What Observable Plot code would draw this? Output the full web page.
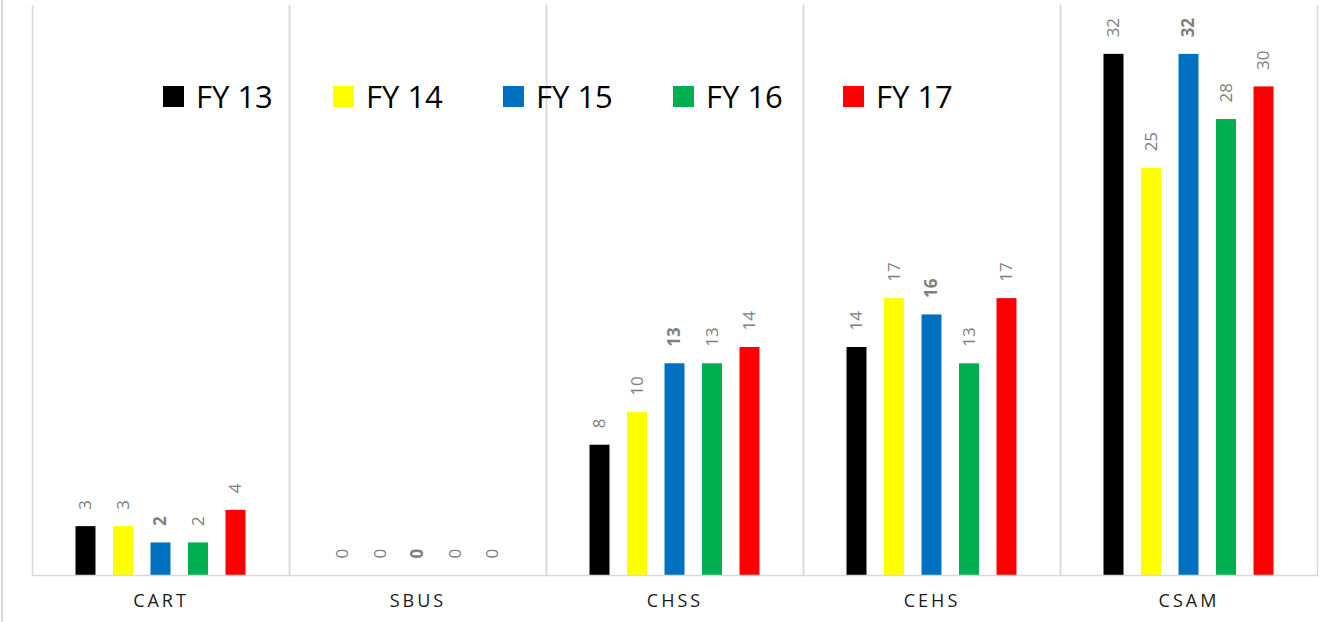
<!DOCTYPE html>
<html>
<head>
<meta charset="utf-8">
<script src="https://cdn.jsdelivr.net/npm/d3@7"></script>
<script src="https://cdn.jsdelivr.net/npm/@observablehq/plot@0.6"></script>
<style>
  html, body { margin: 0; padding: 0; background: #fff; }
  #wrap { position: relative; width: 1333px; height: 622px; overflow: hidden; }
  #wrap::before { content: ""; position: absolute; left: 1px; top: 0; bottom: 0; width: 2px; background: #d9d9d9; }
  #legend { position: absolute; left: 163px; top: 75px; display: flex; font-family: "Open Sans", sans-serif; font-size: 31px; color: #000; }
  #legend .item { width: 170px; display: flex; align-items: center; }
  #legend .sw { width: 21px; height: 21px; margin-right: 12px; flex: none; }
  g[aria-label="fx-axis tick label"] text { letter-spacing: 3px; }
</style>
</head>
<body>
<div id="wrap"></div>
<script>
const categories = ["CART", "SBUS", "CHSS", "CEHS", "CSAM"];
const years = ["FY 13", "FY 14", "FY 15", "FY 16", "FY 17"];
const fy13 = [3, 0, 8, 14, 32];
const fy14 = [3, 0, 10, 17, 25];
const fy15 = [2, 0, 13, 16, 32];
const fy16 = [2, 0, 13, 13, 28];
const fy17 = [4, 0, 14, 17, 30];
const colors = ["#000000", "#FFFF00", "#0070C0", "#00B050", "#FF0000"];
const boldYear = "FY 15";

const series = [fy13, fy14, fy15, fy16, fy17];
const data = [];
categories.forEach((c, i) => {
  years.forEach((y, j) => data.push({cat: c, year: y, value: series[j][i]}));
});

const labelOpts = {
  fx: "cat", x: "year", y: "value", text: d => String(d.value),
  rotate: -90, textAnchor: "start", lineAnchor: "middle", dy: -17,
  fill: "#808080", fontSize: 17
};

const chart = Plot.plot({
  width: 1333,
  height: 622,
  marginLeft: 32,
  marginRight: 16,
  marginTop: 5,
  marginBottom: 47,
  style: {fontFamily: "'Open Sans', sans-serif", background: "#fff"},
  fx: {domain: categories, padding: 0, round: false, label: null},
  x: {domain: years, paddingInner: 0.467, paddingOuter: 1.16, round: false, axis: null},
  y: {domain: [0, 35], axis: null},
  color: {domain: years, range: colors},
  marks: [
    Plot.frame({anchor: "left", stroke: "#d9d9d9", strokeWidth: 1.5}),
    Plot.frame({anchor: "right", stroke: "#d9d9d9", strokeWidth: 1.5}),
    Plot.barY(data, {fx: "cat", x: "year", y: "value", fill: "year"}),
    Plot.ruleY([0], {stroke: "#d9d9d9", strokeWidth: 1.5}),
    Plot.text(data.filter(d => d.year !== boldYear), labelOpts),
    Plot.text(data.filter(d => d.year === boldYear), {...labelOpts, fontWeight: "bold"}),
    Plot.axisFx({anchor: "bottom", tickSize: 0, tickPadding: 19, fontSize: 18, fill: "#1a1a1a", label: null})
  ]
});

const wrap = document.getElementById("wrap");
wrap.appendChild(chart);
const legend = document.createElement("div");
legend.id = "legend";
years.forEach((y, j) => {
  const item = document.createElement("div");
  item.className = "item";
  const sw = document.createElement("span");
  sw.className = "sw";
  sw.style.background = colors[j];
  const t = document.createElement("span");
  t.textContent = y;
  item.appendChild(sw);
  item.appendChild(t);
  legend.appendChild(item);
});
wrap.appendChild(legend);
</script>
</body>
</html>
